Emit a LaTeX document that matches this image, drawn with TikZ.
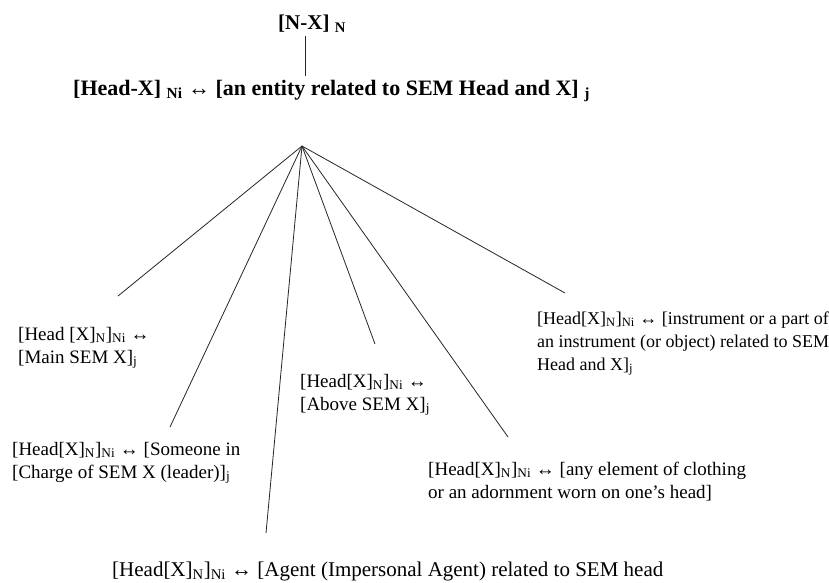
\documentclass[tikz,border=0pt]{standalone}
\usepackage{fontspec}
\setmainfont{Liberation Serif}
\newcommand\sbs[1]{\textsubscript{#1}}
\newcommand\lines[1]{\begin{tabular}[t]{@{}l@{}}#1\end{tabular}}
\begin{document}
\begin{tikzpicture}[x=1pt,y=-1pt,
  lab/.style={anchor=base west, inner sep=0pt, font=\fontsize{19}{23}\selectfont},
  ttl/.style={anchor=base west, inner sep=0pt, font=\fontsize{22}{26}\selectfont\bfseries},
  edge/.style={draw=black!85, line width=0.8pt}]
\useasboundingbox[fill=white] (0,0) rectangle (829,582);

% titles
\node[ttl, font=\fontsize{21}{25}\selectfont\bfseries] (nx) at (278,29) {[N-X] \sbs{N}};
\node[ttl] (hx) at (73,95) {[Head-X] \sbs{Ni} ↔ [an entity related to SEM Head and X] \sbs{j}};
\coordinate (vt) at (305.5,36);
\coordinate (vb) at (305.5,76);
\draw[edge] (vt) -- (vb);

% hub
\coordinate (hub) at (302,146);

% line ends
\coordinate (e1) at (118,296);
\coordinate (e2) at (170,427);
\coordinate (e3) at (266,533);
\coordinate (e4) at (375,344);
\coordinate (e5) at (508,437);
\coordinate (e6) at (565,293);

\foreach \e in {e1,e2,e3,e4,e5,e6} \draw[edge] (hub) -- (\e);

% labels
\node[lab] (main) at (18,340) {\lines{[Head [X]\sbs{N}]\sbs{Ni} ↔\\{}[Main SEM X]\sbs{j}}};
\node[lab] (lead) at (12,455) {\lines{[Head[X]\sbs{N}]\sbs{Ni} ↔ [Someone in\\{}[Charge of SEM X (leader)]\sbs{j}}};
\node[lab] (above) at (300,387) {\lines{[Head[X]\sbs{N}]\sbs{Ni} ↔\\{}[Above SEM X]\sbs{j}}};
\node[lab] (cloth) at (428,475) {\lines{[Head[X]\sbs{N}]\sbs{Ni} ↔ [any element of clothing\\{}or an adornment worn on one’s head]}};
\node[lab, font=\fontsize{18}{23}\selectfont] (instr) at (537,324) {\lines{[Head[X]\sbs{N}]\sbs{Ni} ↔ [instrument or a part of\\{}an instrument (or object) related to SEM\\{}Head and X]\sbs{j}}};
\node[lab, font=\fontsize{21}{25}\selectfont] (agent) at (112,576) {[Head[X]\sbs{N}]\sbs{Ni} ↔ [Agent (Impersonal Agent) related to SEM head};
\end{tikzpicture}
\end{document}
